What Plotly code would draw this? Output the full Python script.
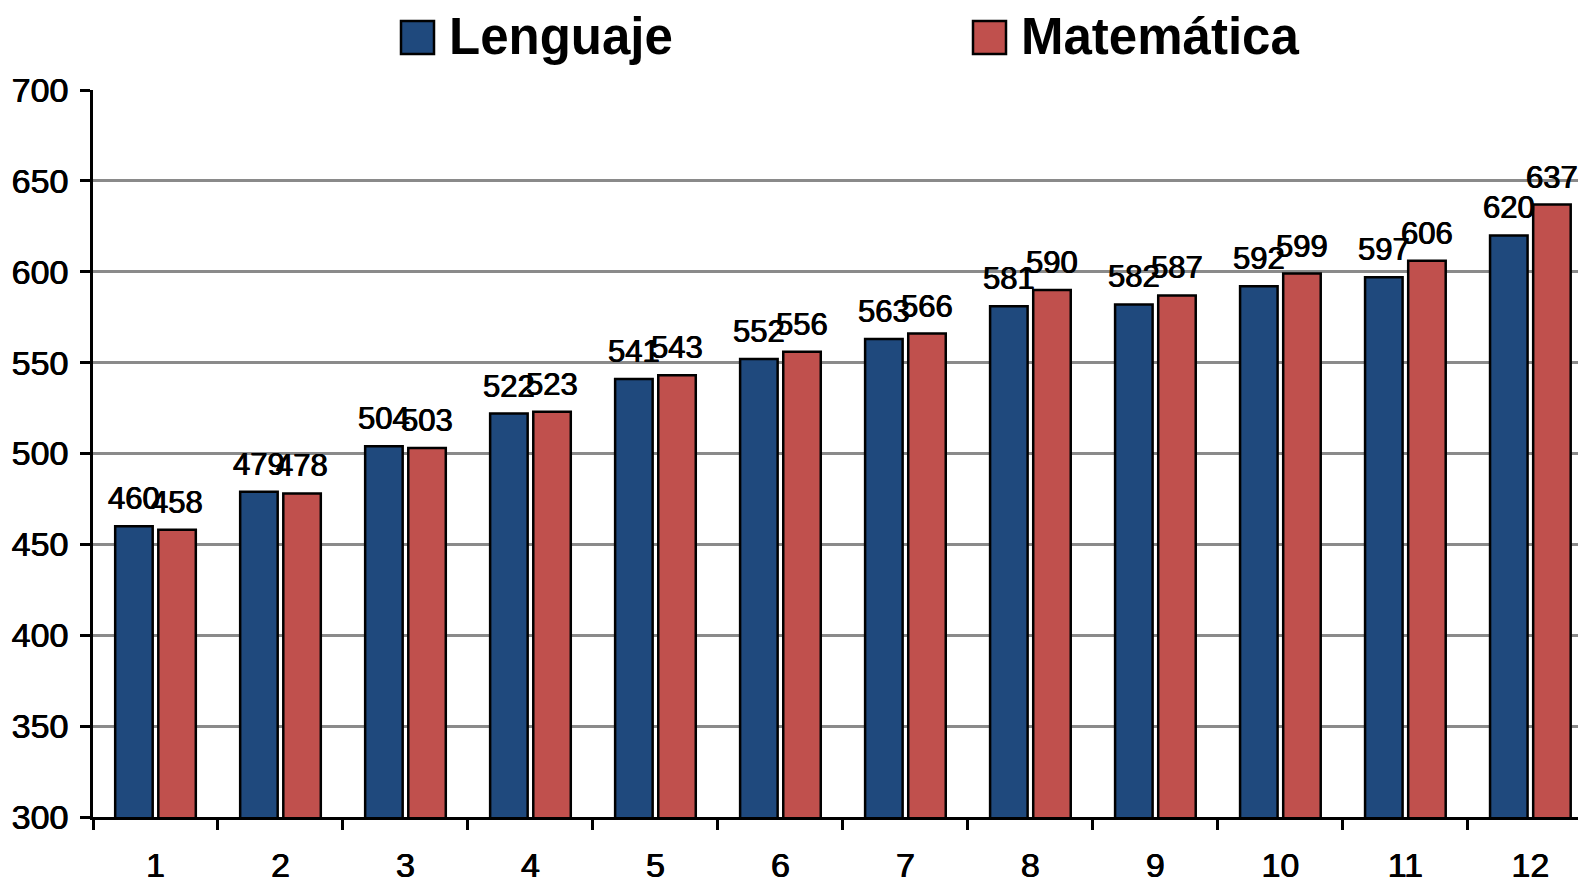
import plotly.graph_objects as go

categories = ["1", "2", "3", "4", "5", "6", "7", "8", "9", "10", "11", "12"]
lenguaje = [460, 479, 504, 522, 541, 552, 563, 581, 582, 592, 597, 620]
matematica = [458, 478, 503, 523, 543, 556, 566, 590, 587, 599, 606, 637]
series_names = ["Lenguaje", "Matemática"]
colors = ["#1F497D", "#C0504D"]

FONT = "Liberation Sans, Arial, sans-serif"
OFF = 8  # page body margin
W, H = 1586 - OFF, 878 - OFF
ML, MR, MT, MB = 93 - OFF, 0, 90 - OFF, 61
PW, PH = W - ML - MR, H - MT - MB

fig = go.Figure()
for name, vals, col in zip(series_names, [lenguaje, matematica], colors):
    fig.add_trace(go.Bar(
        x=categories, y=vals, name=name,
        marker=dict(color=col, line=dict(color="#000000", width=2.5)),
        showlegend=False,
    ))

# data labels as annotations placed through the data axes (category index)
for vals, xs in [(lenguaje, -21.5), (matematica, 21.5)]:
    for i, v in enumerate(vals):
        fig.add_annotation(x=i, y=v, text=str(v), showarrow=False,
                           xanchor="center", yanchor="bottom", xshift=xs, yshift=8,
                           font=dict(family=FONT, size=31, color="#000000",
                                     shadow="0.4px 0 0 #000, -0.4px 0 0 #000"))

fig.update_layout(
    width=W, height=H,
    margin=dict(l=ML, r=MR, t=MT, b=MB, autoexpand=False),
    paper_bgcolor="white", plot_bgcolor="white",
    barmode="group", bargap=0.31, bargroupgap=0.13,
    font=dict(family=FONT, color="#000000"),
)
tickfont = dict(family=FONT, size=34, color="#000000", shadow="0.4px 0 0 #000, -0.4px 0 0 #000")
fig.update_yaxes(
    range=[300, 700], dtick=50, tick0=300, automargin=False,
    showgrid=True, gridcolor="#8A8A8A", gridwidth=2.5,
    showline=True, linecolor="#000000", linewidth=2.5,
    ticks="outside", ticklen=10, tickwidth=2.5, tickcolor="#000000",
    tickfont=tickfont, ticklabelstandoff=5, zeroline=False,
)
fig.update_xaxes(
    type="category", range=[-0.5, 11.445], automargin=False,
    showline=True, linecolor="#000000", linewidth=2.5,
    ticks="outside", tickson="boundaries", ticklen=10, tickwidth=2.5, tickcolor="#000000",
    tickfont=tickfont, ticklabelstandoff=16, showgrid=False,
)

def px_x(x):  # page px -> paper fraction
    return (x - OFF - ML) / PW

def px_y(y):
    return (H - MB - (y - OFF)) / PH

# legend drawn manually (large square swatches)
legend_items = [(401, 447, series_names[0], colors[0]), (973, 1019, series_names[1], colors[1])]
for sx, tx, name, col in legend_items:
    fig.add_shape(type="rect", xref="paper", yref="paper",
                  x0=px_x(sx), x1=px_x(sx + 33), y0=px_y(54), y1=px_y(21),
                  fillcolor=col, line=dict(color="#000000", width=2.5))
    fig.add_annotation(xref="paper", yref="paper", x=px_x(tx), y=px_y(37),
                       text=name, showarrow=False, xanchor="left", yanchor="middle",
                       font=dict(family=FONT, size=51, color="#000000", weight="bold"))

fig.write_html("out.html")
